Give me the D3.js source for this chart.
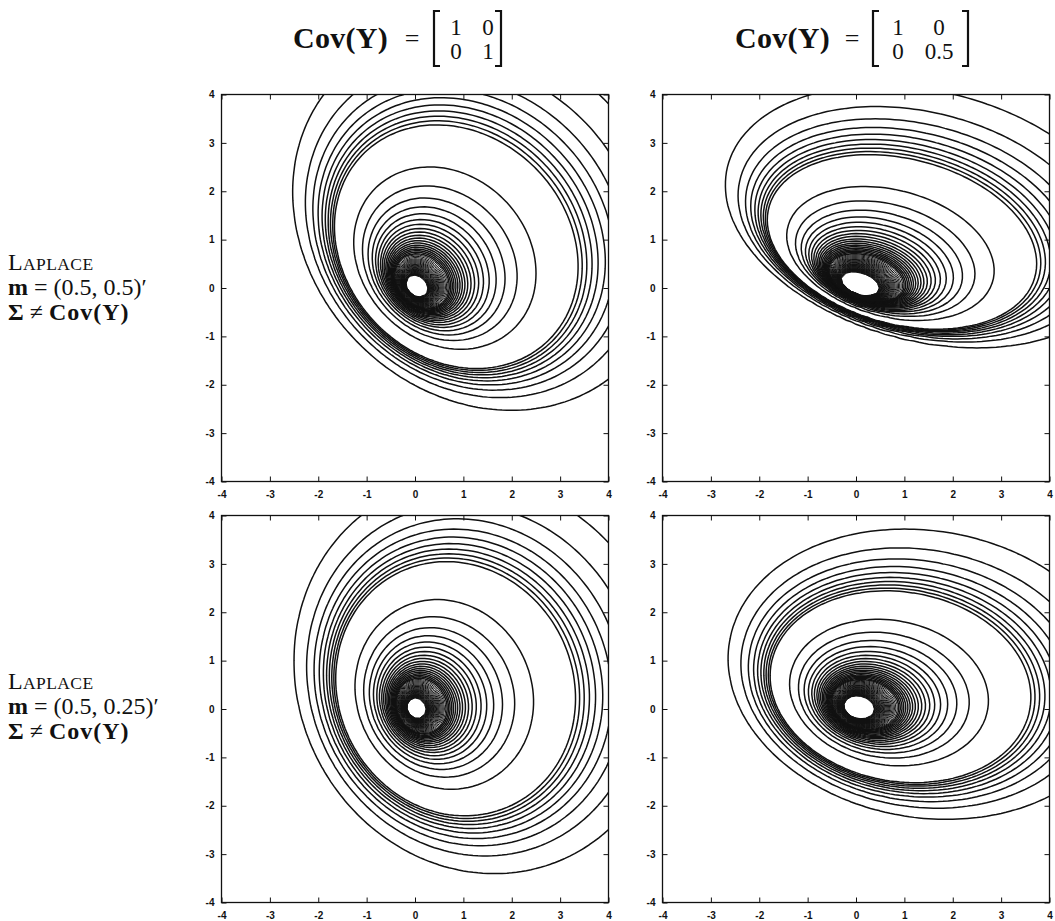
<!DOCTYPE html>
<html>
<head>
<meta charset="utf-8">
<script src="https://cdn.jsdelivr.net/npm/d3@7"></script>
<style>
  body { margin: 0; background: #fff; }
  svg { display: block; }
  .serif { font-family: "Liberation Serif", "Times New Roman", serif; fill: #111; }
  .tick text { font-family: "Liberation Sans", Arial, sans-serif; font-weight: bold; font-size: 10px; fill: #111; }
  .tick line { stroke: #111; }
</style>
</head>
<body>
<svg id="fig" width="1055" height="921"></svg>
<script>
// Asymmetric Laplace parameters: location vectors (one per row) and target covariances (one per column)
const meanVectors = [[0.5, 0.5], [0.5, 0.25]];
const meanLabels = ["(0.5, 0.5)\u2032", "(0.5, 0.25)\u2032"];
const covMatrices = [[[1, 0], [0, 1]], [[1, 0], [0, 0.5]]];
const covEntryLabels = [[["1", "0"], ["0", "1"]], [["1", "0"], ["0", "0.5"]]];

// Contour levels of the density: a fine set for the tails, a coarser one toward the peak
const tailLevels = [0.0005, 0.001, 0.0015, 0.002, 0.0025, 0.003, 0.0035, 0.004, 0.0045, 0.005];
const peakLevels = [0.015, 0.025, 0.035, 0.045, 0.055, 0.065, 0.075, 0.085, 0.095,
                    0.105, 0.115, 0.125, 0.135, 0.145, 0.155, 0.165, 0.175, 0.185, 0.195,
                    0.205, 0.215, 0.225, 0.235, 0.245, 0.255, 0.265, 0.275, 0.285, 0.295,
                    0.305, 0.315, 0.325, 0.335, 0.345, 0.355, 0.365, 0.375, 0.385, 0.395,
                    0.405, 0.415, 0.425, 0.435, 0.445, 0.455, 0.465, 0.475, 0.485, 0.495];
const contourLevels = tailLevels.concat(peakLevels);

const tickValues = [-4, -3, -2, -1, 0, 1, 2, 3, 4];

// Evaluation grid: -4:0.1:4 in both directions
const gridMin = -4, gridStep = 0.1, gridN = 81;

// Modified Bessel functions (polynomial approximations)
function besselI0(x) {
  const y = (x / 3.75) * (x / 3.75);
  return 1 + y * (3.5156229 + y * (3.0899424 + y * (1.2067492 + y * (0.2659732 + y * (0.0360768 + y * 0.0045813)))));
}
function besselK0(x) {
  if (x <= 2) {
    const y = x * x / 4;
    return (-Math.log(x / 2) * besselI0(x)) + (-0.57721566 + y * (0.42278420 + y * (0.23069756 +
      y * (0.03488590 + y * (0.00262698 + y * (0.00010750 + y * 0.0000074))))));
  }
  const y = 2 / x;
  return (Math.exp(-x) / Math.sqrt(x)) * (1.25331414 + y * (-0.07832358 + y * (0.02189568 +
    y * (-0.01062446 + y * (0.00587872 + y * (-0.00251540 + y * 0.00053208))))));
}

// Bivariate asymmetric Laplace density with Sigma = Cov(Y) - m m'
function laplaceGrid(m, cov) {
  const s11 = cov[0][0] - m[0] * m[0];
  const s12 = cov[0][1] - m[0] * m[1];
  const s22 = cov[1][1] - m[1] * m[1];
  const det = s11 * s22 - s12 * s12;
  const i11 = s22 / det, i12 = -s12 / det, i22 = s11 / det;
  const a1 = i11 * m[0] + i12 * m[1];
  const a2 = i12 * m[0] + i22 * m[1];
  const C = Math.sqrt(2 + m[0] * a1 + m[1] * a2);
  const norm = 1 / (Math.PI * Math.sqrt(det));
  const values = new Array(gridN * gridN);
  for (let j = 0; j < gridN; j++) {
    const y2 = (j - 40) / 10;
    for (let i = 0; i < gridN; i++) {
      const y1 = (i - 40) / 10;
      const Q = Math.sqrt(i11 * y1 * y1 + 2 * i12 * y1 * y2 + i22 * y2 * y2);
      values[j * gridN + i] = Q === 0 ? Infinity : norm * Math.exp(a1 * y1 + a2 * y2) * besselK0(C * Q);
    }
  }
  return values;
}

const svg = d3.select("#fig");
const panelSize = 387;
const colX = [221.5, 662.5];
const rowY = [94.5, 515.5];

const xScale = d3.scaleLinear().domain([-4, 4]).range([0, panelSize]);
const yScale = d3.scaleLinear().domain([-4, 4]).range([panelSize, 0]);

const gridToPixel = d3.geoTransform({
  point(gx, gy) {
    this.stream.point(xScale(gridMin + (gx - 0.5) * gridStep), yScale(gridMin + (gy - 0.5) * gridStep));
  }
});
const contourPath = d3.geoPath(gridToPixel);

meanVectors.forEach((m, r) => {
  covMatrices.forEach((cov, c) => {
    const g = svg.append("g").attr("transform", `translate(${colX[c]},${rowY[r]})`);
    const clipId = `clip-${r}-${c}`;
    g.append("clipPath").attr("id", clipId)
      .append("rect").attr("width", panelSize).attr("height", panelSize);

    const values = laplaceGrid(m, cov);
    const bands = d3.contours().size([gridN, gridN]).thresholds(contourLevels)(values);

    g.append("g").attr("clip-path", `url(#${clipId})`)
      .selectAll("path").data(bands).join("path")
      .attr("d", contourPath)
      .attr("fill", "none")
      .attr("stroke", "#111")
      .attr("stroke-width", d => d.value > 0.2 ? 1.0 : 1.5);

    // frame and inward ticks on all four sides
    g.append("rect").attr("width", panelSize).attr("height", panelSize)
      .attr("fill", "none").attr("stroke", "#111").attr("stroke-width", 1.3);

    const bottom = g.append("g").attr("transform", `translate(0,${panelSize})`)
      .call(d3.axisBottom(xScale).tickValues(tickValues).tickSize(-5).tickSizeOuter(0).tickPadding(9).tickFormat(d => String(d)));
    const left = g.append("g")
      .call(d3.axisLeft(yScale).tickValues(tickValues).tickSize(-5).tickSizeOuter(0).tickPadding(7).tickFormat(d => String(d)));
    const top = g.append("g")
      .call(d3.axisTop(xScale).tickValues(tickValues).tickSize(-5).tickSizeOuter(0).tickFormat(""));
    const right = g.append("g").attr("transform", `translate(${panelSize},0)`)
      .call(d3.axisRight(yScale).tickValues(tickValues).tickSize(-5).tickSizeOuter(0).tickFormat(""));
    [bottom, left, top, right].forEach(a => a.select(".domain").remove());
  });
});

// Column headers: Cov(Y) matrices
const headerX = [[293, 412, 434, 456, 488, 501], [735, 852, 873, 898, 939, 968]];
covEntryLabels.forEach((entries, c) => {
  const [covX, eqX, lbX, c1X, c2X, rbX] = headerX[c];
  const h = svg.append("g").attr("class", "serif");
  h.append("text").attr("x", covX).attr("y", 48)
    .attr("font-size", 30).attr("font-weight", "bold").attr("letter-spacing", 0.3).text("Cov(Y)");
  h.append("text").attr("x", eqX).attr("y", 47).attr("text-anchor", "middle")
    .attr("font-size", 26).text("=");
  entries.forEach((row, i) => {
    row.forEach((txt, k) => {
      h.append("text").attr("x", k === 0 ? c1X : c2X).attr("y", 35 + i * 24)
        .attr("text-anchor", "middle").attr("font-size", 23).text(txt);
    });
  });
  const bracket = (x, dir) => `M${x + 6 * dir},11 H${x} V66 H${x + 6 * dir}`;
  h.append("path").attr("d", bracket(lbX, 1)).attr("fill", "none").attr("stroke", "#111").attr("stroke-width", 2.2);
  h.append("path").attr("d", bracket(rbX, -1)).attr("fill", "none").attr("stroke", "#111").attr("stroke-width", 2.2);
});

// Row labels
const rowLabelY = [270, 689];
meanLabels.forEach((lab, r) => {
  const y0 = rowLabelY[r];
  const t = svg.append("g").attr("class", "serif");
  const l1 = t.append("text").attr("x", 8).attr("y", y0).attr("font-size", 24).attr("letter-spacing", 0.4);
  l1.append("tspan").text("L");
  l1.append("tspan").attr("font-size", 17.5).text("APLACE");
  const l2 = t.append("text").attr("x", 8).attr("y", y0 + 25).attr("font-size", 24);
  l2.append("tspan").attr("font-weight", "bold").text("m");
  l2.append("tspan").text(" = " + lab);
  const l3 = t.append("text").attr("x", 8).attr("y", y0 + 50).attr("font-size", 24);
  l3.append("tspan").attr("font-weight", "bold").text("\u03A3");
  l3.append("tspan").text(" \u2260 ");
  l3.append("tspan").attr("font-weight", "bold").attr("letter-spacing", 1).text("Cov(Y)");
});
</script>
</body>
</html>
